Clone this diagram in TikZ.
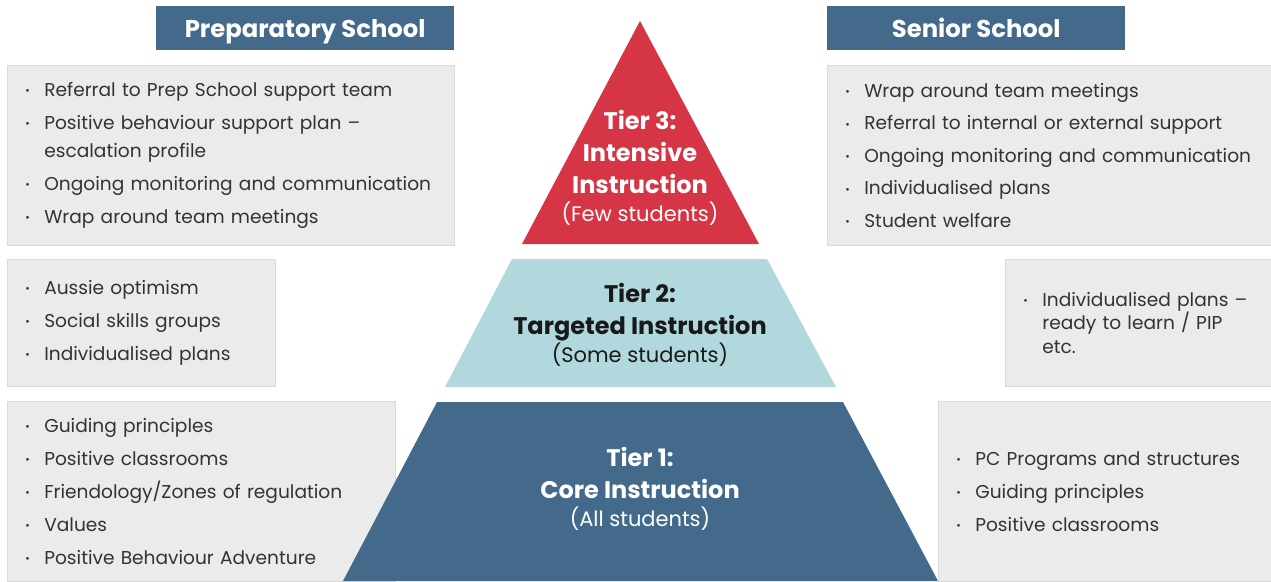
\documentclass[tikz,border=0pt]{standalone}
\usepackage{fontspec}
\setmainfont{Poppins}
\usetikzlibrary{positioning}

\definecolor{tierblue}{HTML}{436A8A}
\definecolor{tierlight}{HTML}{B0D8DD}
\definecolor{tierred}{HTML}{D53545}
\definecolor{boxgrey}{HTML}{EBEBEB}
\definecolor{boxline}{HTML}{DADADA}
\definecolor{bodytext}{HTML}{333333}

% one bullet line with hanging indent
\newcommand{\blt}[1]{\hangindent=19pt\hangafter=1\noindent\makebox[19pt][l]{\raisebox{1.5pt}{\fontsize{11}{11}\selectfont\textbullet}}#1\par}
\newcommand{\tiersubfont}{\mdseries\fontsize{21}{24}\selectfont}

\tikzset{
  header/.style={fill=tierblue, text=white, anchor=north west, inner sep=0pt,
    minimum width=298pt, minimum height=44pt, text height=20pt, text depth=2pt,
    font=\bfseries\fontsize{24.3}{28}\selectfont},
  listbox/.style={fill=boxgrey, draw=boxline, line width=0.6pt, anchor=north west,
    align=left, text=bodytext, inner xsep=18pt, inner ysep=0pt,
    font=\fontsize{18.6}{28}\selectfont, execute at begin node=\setlength{\parskip}{5pt}},
  tierlabel/.style={align=center, font=\bfseries\fontsize{24}{32}\selectfont},
}

\begin{document}
\begin{tikzpicture}[x=1pt, y=-1pt]
  \useasboundingbox (0,0) rectangle (1271,581);

  % school headers
  \node[header] (prephead) at (156,6) {Preparatory School};
  \node[header] (senhead) at (827,6) {Senior School};

  % Preparatory School lists
  \node[listbox, text width=411pt, minimum height=180pt] (prepA) at (7,65) {%
    \blt{Referral to Prep School support team}
    \blt{Positive behaviour support plan --\newline escalation profile}
    \blt{Ongoing monitoring and communication}
    \blt{Wrap around team meetings}};
  \node[listbox, text width=232pt, minimum height=127pt] (prepB) at (7,259) {%
    \blt{Aussie optimism}
    \blt{Social skills groups}
    \blt{Individualised plans}};
  \node[listbox, text width=352pt, minimum height=180pt] (prepC) at (7,401) {%
    \blt{Guiding principles}
    \blt{Positive classrooms}
    \blt{Friendology/Zones of regulation}
    \blt{Values}
    \blt{Positive Behaviour Adventure}};

  % Senior School lists
  \node[listbox, text width=408pt, minimum height=180pt,
    execute at begin node=\setlength{\parskip}{4.5pt}] (senA) at (827,65) {%
    \blt{Wrap around team meetings}
    \blt{Referral to internal or external support}
    \blt{Ongoing monitoring and communication}
    \blt{Individualised plans}
    \blt{Student welfare}};
  \node[listbox, text width=230pt, minimum height=127pt,
    font=\fontsize{18.6}{23.5}\selectfont] (senB) at (1005,259) {%
    \blt{Individualised plans --\newline ready to learn / PIP\newline etc.}};
  \node[listbox, text width=297pt, minimum height=180pt] (senC) at (938,401) {%
    \blt{PC Programs and structures}
    \blt{Guiding principles}
    \blt{Positive classrooms}};

  % the pyramid
  \fill[tierred] (640,21) -- (759,244) -- (522,244) -- cycle;
  \fill[tierlight] (512,259) -- (767,259) -- (836,387) -- (445,387) -- cycle;
  \fill[tierblue] (437,402) -- (843,402) -- (938,581) -- (343,581) -- cycle;

  \node[tierlabel, text=white] (tier3) at (640,168) {Tier 3:\\Intensive\\Instruction\\[-4pt]{\tiersubfont(Few students)}};
  \node[tierlabel, text=black!90] (tier2) at (640,325) {Tier 2:\\Targeted Instruction\\[-4pt]{\tiersubfont(Some students)}};
  \node[tierlabel, text=white] (tier1) at (640,489) {Tier 1:\\Core Instruction\\[-4pt]{\tiersubfont(All students)}};
\end{tikzpicture}
\end{document}
